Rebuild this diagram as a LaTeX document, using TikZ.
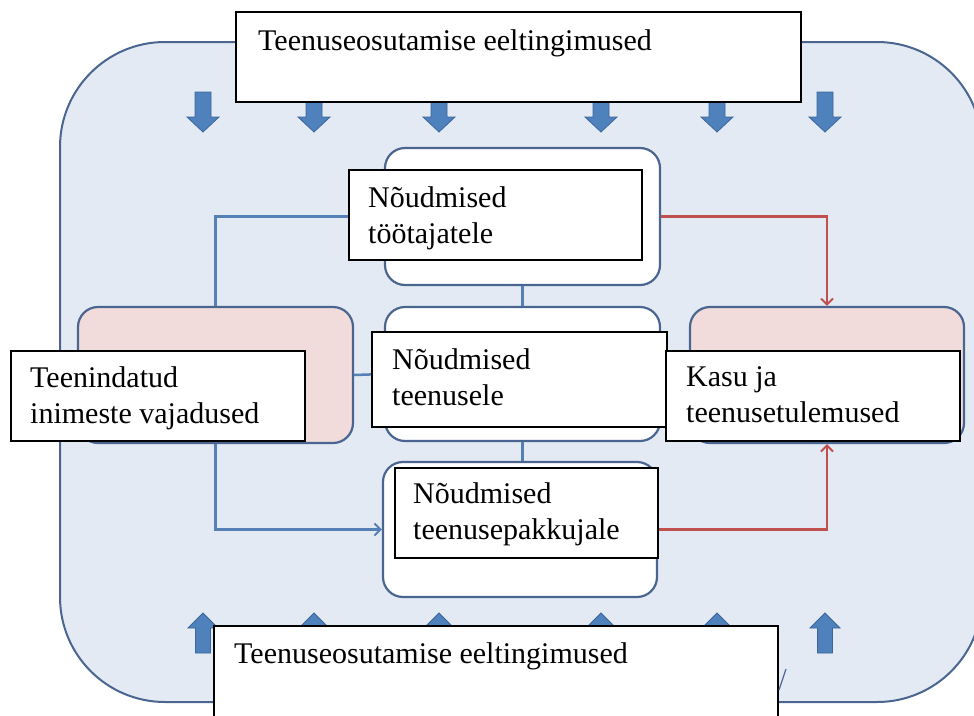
\documentclass[tikz,border=0pt]{standalone}
\usepackage{fontspec}
\setmainfont{Liberation Serif}
\usetikzlibrary{arrows.meta}
\definecolor{bgc}{HTML}{E3EAF4}
\definecolor{edgec}{HTML}{4A6690}
\definecolor{pinkf}{HTML}{F2DCDB}
\definecolor{bluel}{HTML}{5580B5}
\definecolor{redl}{HTML}{C0504D}
\definecolor{arrf}{HTML}{4F81BD}
\definecolor{arrd}{HTML}{3B6699}
\begin{document}
\begin{tikzpicture}[x=1pt,y=-1pt,
  rbox/.style={draw=edgec, line width=2.2pt, rounded corners=20pt, inner sep=0pt, fill=white},
  pbox/.style={rbox, fill=pinkf},
  tbox/.style={draw=black, line width=1.8pt, fill=white, inner sep=0pt},
  txt/.style={inner sep=0pt, align=left, font=\fontsize{30}{36}\selectfont},
  bl/.style={draw=bluel, line width=2.5pt},
  rl/.style={draw=redl, line width=2.5pt},
  tipb/.style={-{Straight Barb[length=6pt,width=12pt,line width=2pt]}},
  blk/.style={fill=arrf, draw=arrd, line width=0.8pt, line join=miter}]
\useasboundingbox (0,0) rectangle (974,715);
\fill[white] (0,0) rectangle (974,715);
% background rounded shape
\draw[fill=bgc, draw=edgec, line width=2pt, rounded corners=105pt] (60,42) rectangle (982,702);
% block arrows
\foreach \x in {203,314,439,601,717,825}{
  \draw[blk] ({\x-8},92) -- ({\x+8},92) -- ({\x+8},117) -- ({\x+16},117) -- (\x,132) -- ({\x-16},117) -- ({\x-8},117) -- cycle;
  \draw[blk] ({\x-7.5},653) -- ({\x+7.5},653) -- ({\x+7.5},628) -- ({\x+15},628) -- (\x,613) -- ({\x-15},628) -- ({\x-7.5},628) -- cycle;
}
% rounded boxes
\node[rbox, minimum width=275pt, minimum height=137pt] (rTop) at (522.5,216.5) {};
\node[rbox, minimum width=275pt, minimum height=134pt] (rMid) at (522.5,374) {};
\node[rbox, minimum width=274pt, minimum height=135pt] (rBot) at (520,529.5) {};
\node[pbox, minimum width=275pt, minimum height=136pt] (pinkL) at (215.5,375) {};
\node[pbox, minimum width=274pt, minimum height=136pt] (pinkR) at (827,375) {};
% connectors
\draw[bl] (pinkL.north) |- (rTop.west);
\draw[bl] (rTop.south) -- (rMid.north);
\draw[bl] (pinkL.east) -- (rMid.west);
\draw[bl] (rMid.south) -- (rMid.south |- rBot.north);
\draw[bl, tipb] (pinkL.south) |- (rBot.west);
\draw[rl, tipb] (rTop.east) -| (pinkR.north);
\draw[rl, tipb] (rBot.east) -| (pinkR.south);
% text boxes
\node[tbox, minimum width=565pt, minimum height=90pt] (hdrTop) at (518.5,57) {};
\node[tbox, minimum width=564pt, minimum height=94pt] (hdrBot) at (496,673) {};
\node[tbox, minimum width=293pt, minimum height=90pt] (tA) at (495.5,215) {};
\node[tbox, minimum width=295pt, minimum height=95pt] (tB) at (519.5,379.5) {};
\node[tbox, minimum width=294pt, minimum height=90pt] (tC) at (813,396) {};
\node[tbox, minimum width=294pt, minimum height=90pt] (tD) at (158,396) {};
\node[tbox, minimum width=263pt, minimum height=90pt] (tE) at (526.5,513) {};
% small stroke
\draw[edgec, line width=1.2pt] (779,690) -- (786,669);
% texts (base anchor = baseline of the last line)
\node[txt, anchor=base west] (xTop) at (258,50) {Teenuseosutamise eeltingimused};
\node[txt, anchor=base west] (xBot) at (234,663) {Teenuseosutamise eeltingimused};
\node[txt, anchor=base west] (xA) at (368,243) {Nõudmised\\töötajatele};
\node[txt, anchor=base west] (xB) at (392,405) {Nõudmised\\teenusele};
\node[txt, anchor=base west] (xC) at (686,422) {Kasu ja\\teenusetulemused};
\node[txt, anchor=base west] (xD) at (30,423) {Teenindatud\\inimeste vajadused};
\node[txt, anchor=base west] (xE) at (413,539) {Nõudmised\\teenusepakkujale};
\end{tikzpicture}
\end{document}
